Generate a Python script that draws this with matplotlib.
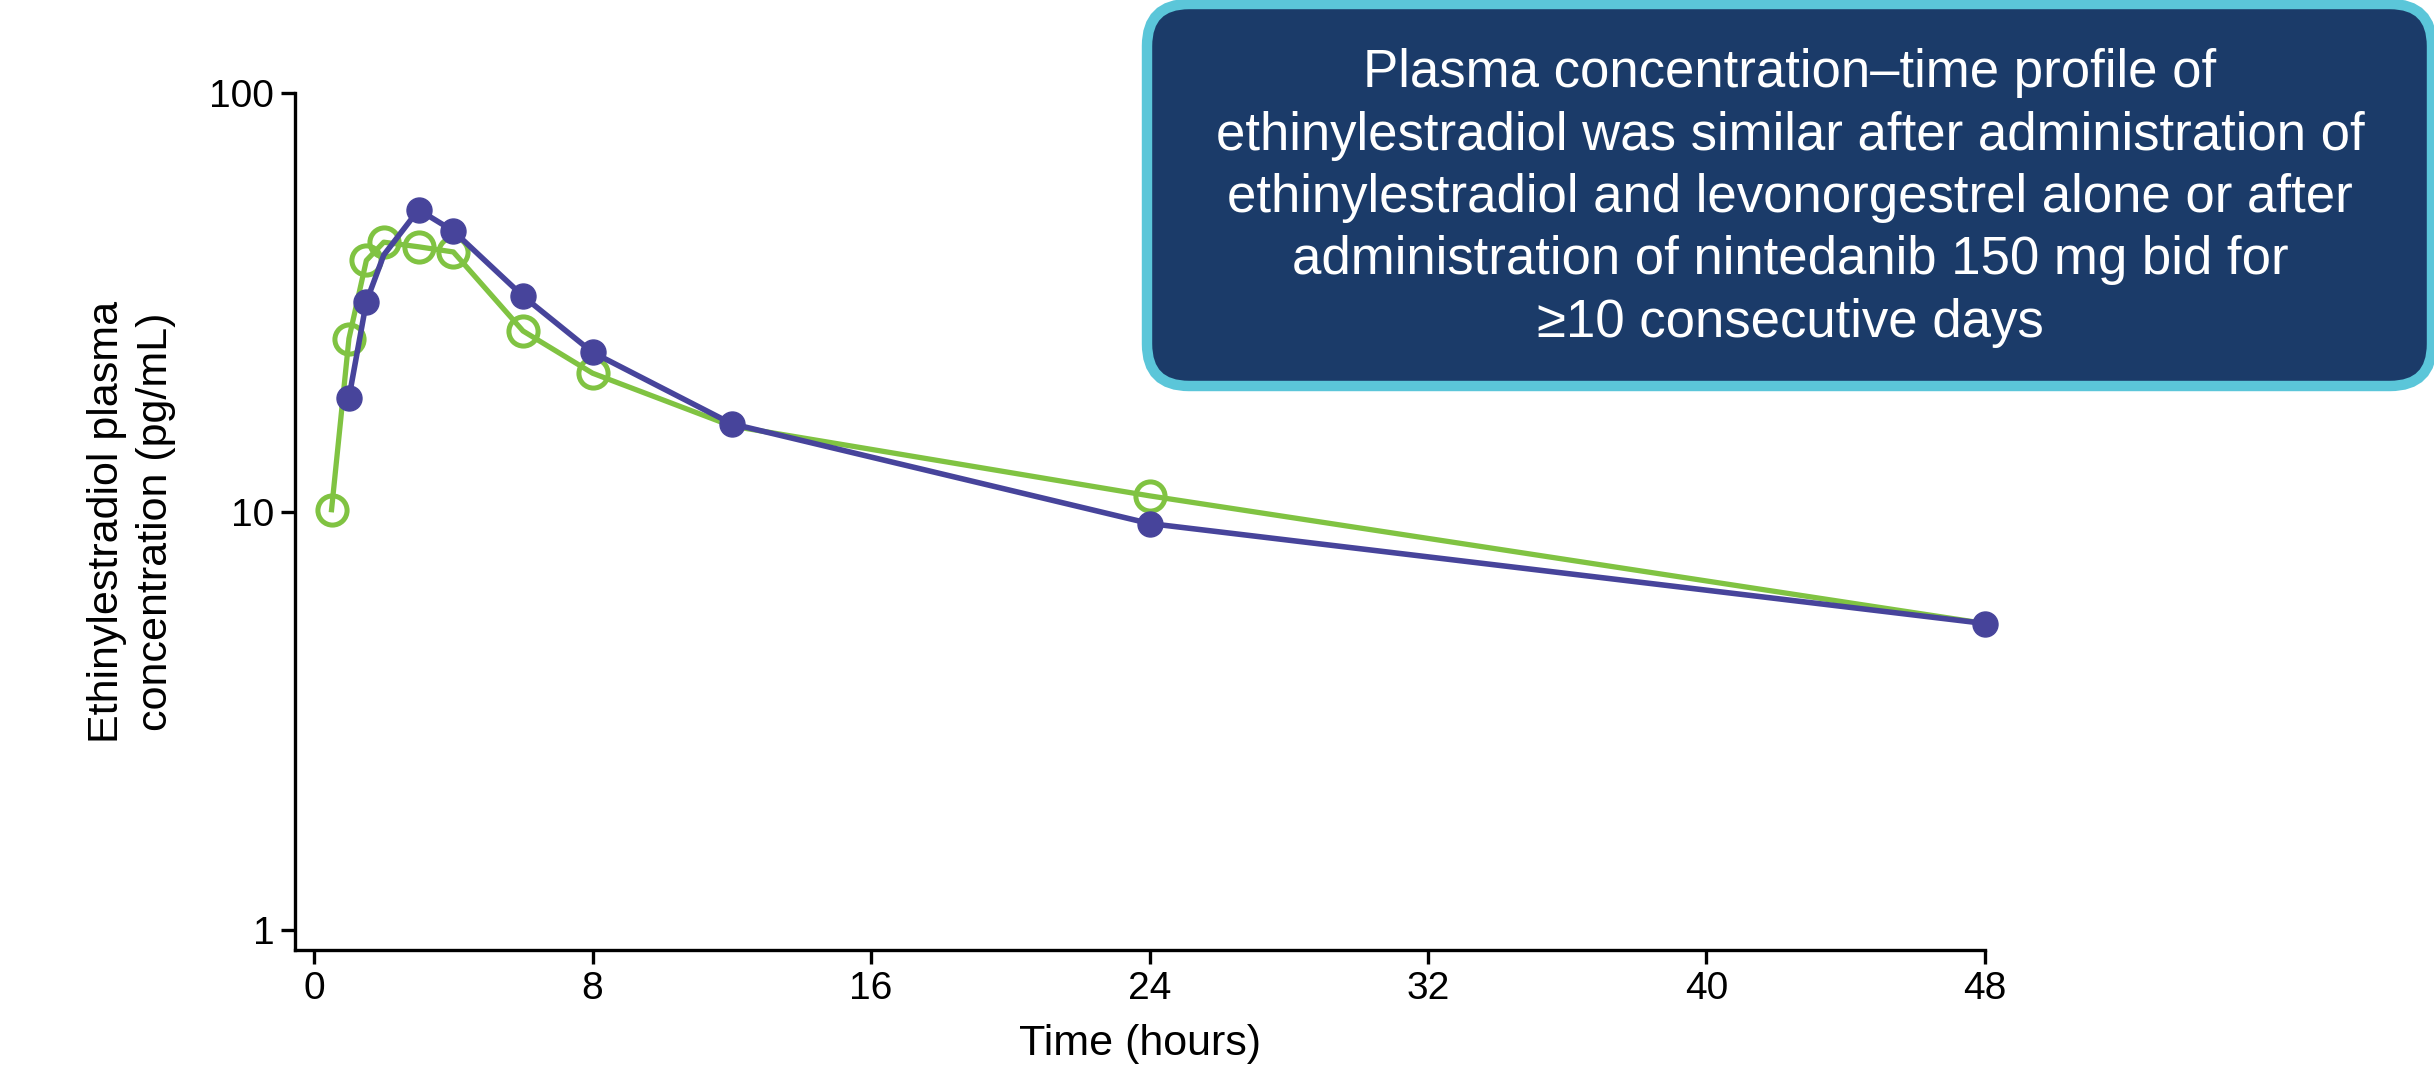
import numpy as np
import matplotlib
matplotlib.use("Agg")
import matplotlib.pyplot as plt
from matplotlib.patches import FancyBboxPatch
from matplotlib.ticker import FixedLocator, NullLocator

# --- DATA ---
time_alone = [0.5, 1, 1.5, 2, 3, 4, 6, 8, 12, 24, 48]
conc_alone = [10.1, 25.9, 39.8, 44.0, 42.9, 41.7, 27.0, 21.4, 16.0, 10.9, 5.4]

time_nint = [1, 1.5, 2, 3, 4, 6, 8, 12, 24, 48]
conc_nint = [18.7, 31.7, 41.0, 52.6, 46.8, 32.7, 24.0, 16.2, 9.36, 5.4]

# markers hidden in the reference: green at 12 h / 48 h, blue at 2 h
alone_marked = [0, 1, 2, 3, 4, 5, 6, 7, 9]
nint_marked = [0, 1, 3, 4, 5, 6, 7, 8, 9]

x_ticks = [0, 8, 16, 24, 32, 40, 48]
y_ticks = [1, 10, 100]
y_tick_labels = ["1", "10", "100"]

box_text = ("Plasma concentration\u2013time profile of\n"
            "ethinylestradiol was similar after administration of\n"
            "ethinylestradiol and levonorgestrel alone or after\n"
            "administration of nintedanib 150 mg bid for\n"
            "\u226510 consecutive days")

GREEN = "#80C342"
BLUE = "#47449B"
NAVY = "#1B3B69"
CYAN = "#5BC6D9"

plt.rcParams['font.family'] = ['Liberation Sans', 'DejaVu Sans']

fig = plt.figure(figsize=(24.34, 10.76), dpi=100)
ax = fig.add_axes([0.1212, 0.1171, 0.6943, 0.7965])

ax.plot(time_alone, conc_alone, color=GREEN, lw=3.8, marker='o', ms=21,
        mfc='none', mec=GREEN, mew=3.6, markevery=alone_marked,
        zorder=3, clip_on=False)
ax.plot(time_nint, conc_nint, color=BLUE, lw=4.0, marker='o', ms=18,
        mfc=BLUE, mec=BLUE, markevery=nint_marked, zorder=4, clip_on=False)

ax.set_yscale('log')
ax.set_xlim(-0.55, 48)
ax.set_ylim(0.896, 100)

ax.xaxis.set_major_locator(FixedLocator(x_ticks))
ax.yaxis.set_major_locator(FixedLocator(y_ticks))
ax.yaxis.set_minor_locator(NullLocator())
ax.set_yticklabels(y_tick_labels)

for side in ('top', 'right'):
    ax.spines[side].set_visible(False)
for side in ('left', 'bottom'):
    ax.spines[side].set_linewidth(2.4)

ax.tick_params(axis='both', which='major', width=2.4, length=10,
               labelsize=28, pad=5, color='black')

ax.set_xlabel("Time (hours)", fontsize=31, labelpad=12)
ax.set_ylabel("Ethinylestradiol plasma\nconcentration (pg/mL)", fontsize=31,
              labelpad=24, linespacing=1.3)

# --- callout box (figure inches) ---
box = FancyBboxPatch((11.47, 6.90), 24.32 - 11.47, 10.72 - 6.90,
                     boxstyle="round,pad=0,rounding_size=0.42",
                     transform=fig.dpi_scale_trans,
                     facecolor=NAVY, edgecolor=CYAN, linewidth=7.5,
                     zorder=10)
fig.patches.append(box)
fig.text(1790 / 2434, 1 - 198 / 1076, box_text, ha='center', va='center',
         multialignment='center', color='white', fontsize=38,
         linespacing=1.32, zorder=11)

fig.savefig("out.png", dpi=100)
